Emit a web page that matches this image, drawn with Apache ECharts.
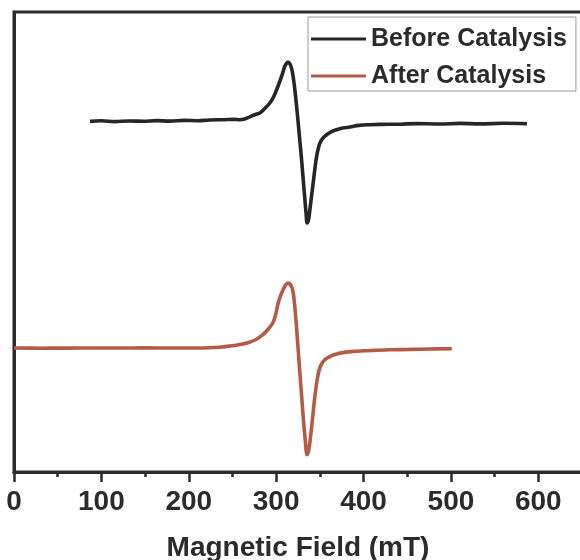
<!DOCTYPE html>
<html>
<head>
<meta charset="utf-8">
<style>
  html, body { margin: 0; padding: 0; background: #fff; }
  #chart { width: 580px; height: 560px; }
</style>
<script src="https://cdn.jsdelivr.net/npm/echarts@6/dist/echarts.min.js"></script>
</head>
<body>
<div id="chart"></div>
<script>
// EPR spectra (first derivative), arbitrary intensity units with vertical offset
const beforeField = [87, 100, 115, 132, 148, 163, 178, 195, 210, 224, 240, 252, 258, 264, 270, 275.6, 281.3, 287, 292.8, 297, 300.5, 303.5, 306.2, 308.5, 310, 312, 313.7, 315.6, 317.6, 319.5, 321.4, 323.3, 325.2, 327.2, 329.1, 331, 332.9, 334.3, 335.5, 337, 338.6, 340.5, 342.4, 344.3, 346.3, 348.2, 350.1, 353.5, 357.7, 363, 369.2, 376, 384.4, 395, 407.3, 420, 441.6, 460, 487.4, 510, 533.2, 560, 587];
const beforeSignal = [350.6, 351.2, 350.4, 351.0, 350.7, 351.4, 350.9, 351.6, 351.3, 352.0, 352.3, 352.6, 352.3, 353.0, 355.2, 357.3, 359.0, 363.5, 369.0, 375.0, 382.3, 389.0, 395.6, 402.0, 406.0, 408.8, 409.6, 408.3, 403.8, 395.0, 382.3, 366.5, 349.3, 330.5, 312.3, 292.0, 272.3, 258.0, 249.0, 252.0, 262.3, 276.0, 289.3, 303.0, 315.6, 323.5, 329.0, 333.8, 337.3, 340.2, 342.3, 343.9, 345.0, 346.6, 347.3, 347.6, 347.8, 348.4, 348.0, 348.6, 348.1, 348.7, 348.3];

const afterField = [0, 30, 60, 90, 121, 150, 180, 212.6, 235, 250.4, 260, 267.6, 277, 284.8, 291, 296.3, 299.5, 302.3, 305.6, 308.8, 311.3, 313.7, 316.2, 318.8, 320.8, 322.6, 324.5, 326.3, 328.6, 330.9, 333.2, 335.5, 337.3, 339.4, 341.8, 344.3, 346.8, 349.3, 352.3, 355.8, 362, 369.2, 378, 388.2, 400, 411.1, 430, 453.1, 476, 501];
const afterSignal = [124.0, 123.8, 123.9, 124.0, 124.0, 124.1, 124.0, 124.0, 124.8, 126.3, 127.8, 129.3, 132.5, 137.3, 143.0, 149.3, 157.5, 169.0, 177.5, 184.0, 187.6, 189.0, 187.8, 182.3, 170.0, 152.3, 131.0, 109.0, 82.5, 55.6, 33.0, 17.3, 22.0, 35.6, 55.0, 75.6, 91.5, 102.3, 108.5, 112.3, 115.6, 118.0, 119.6, 120.6, 121.2, 121.6, 122.2, 122.6, 123.0, 123.3];

const xTicks = [0, 100, 200, 300, 400, 500, 600];
const seriesNames = ['Before Catalysis', 'After Catalysis'];

const ink = '#2b2b2b';
const pairs = (xs, ys) => xs.map((x, i) => [x, ys[i]]);

const chart = echarts.init(document.getElementById('chart'));
chart.setOption({
  animation: false,
  grid: {
    left: 14, top: 12, width: 568, height: 460,
    outerBoundsMode: 'none', containLabel: false,
    show: true, borderColor: ink, borderWidth: 3, backgroundColor: 'transparent'
  },
  legend: {
    data: seriesNames.map(n => ({ name: n, icon: 'rect' })),
    orient: 'vertical',
    left: 308, top: 17,
    padding: [8, 9, 1, 3],
    itemWidth: 55, itemHeight: 3, itemGap: 9,
    borderColor: '#9a9a9a', borderWidth: 1,
    textStyle: { fontFamily: 'Liberation Sans', fontWeight: 'bold', fontSize: 25, color: ink, lineHeight: 28 }
  },
  xAxis: {
    type: 'value', min: 0, max: 650, interval: 100,
    name: 'Magnetic Field (mT)', nameLocation: 'middle', nameGap: 62,
    nameTextStyle: { fontFamily: 'Liberation Sans', fontWeight: 'bold', fontSize: 28, color: ink },
    axisLine: { show: true, lineStyle: { color: ink, width: 3 } },
    axisTick: { show: true, inside: false, length: 10, lineStyle: { color: ink, width: 2.5 } },
    minorTick: { show: true, splitNumber: 2, length: 5, lineStyle: { color: ink, width: 2.5 } },
    axisLabel: {
      margin: 16, fontFamily: 'Liberation Sans', fontWeight: 'bold', fontSize: 28, color: ink,
      showMaxLabel: false,
      formatter: v => (xTicks.indexOf(v) >= 0 ? String(v) : '')
    },
    splitLine: { show: false }
  },
  yAxis: {
    type: 'value', min: 0, max: 460,
    axisLine: { show: true, lineStyle: { color: ink, width: 3 } },
    axisTick: { show: false }, axisLabel: { show: false }, splitLine: { show: false }
  },
  series: [
    {
      name: seriesNames[0], type: 'line', showSymbol: false, smooth: 0.4,
      lineStyle: { color: '#262626', width: 3.6 }, itemStyle: { color: '#262626' },
      data: pairs(beforeField, beforeSignal)
    },
    {
      name: seriesNames[1], type: 'line', showSymbol: false, smooth: 0.4,
      lineStyle: { color: '#b35c45', width: 3.6 }, itemStyle: { color: '#b35c45' },
      data: pairs(afterField, afterSignal)
    }
  ]
});
</script>
</body>
</html>
